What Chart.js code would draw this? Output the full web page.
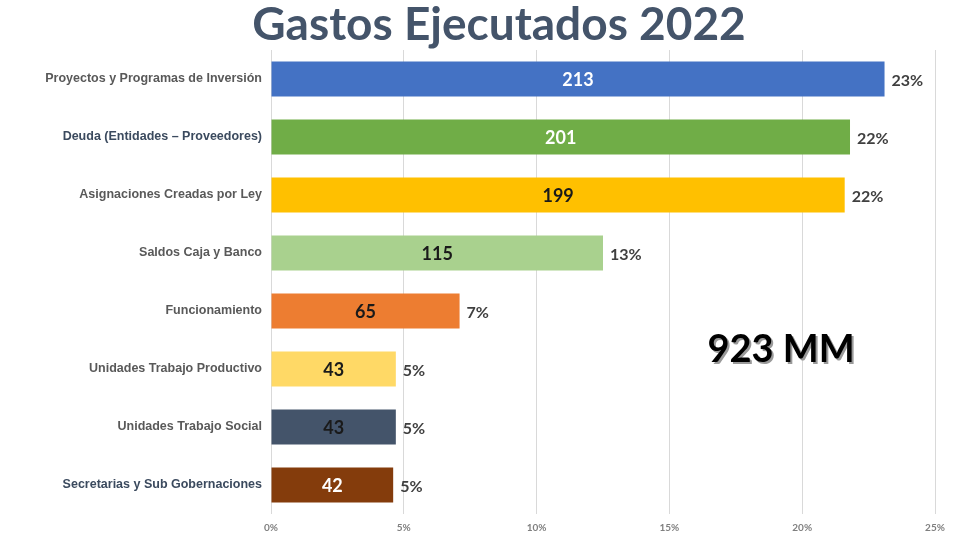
<!DOCTYPE html>
<html lang="es">
<head>
<meta charset="UTF-8" />
<title>Gastos Ejecutados 2022</title>
<style>
  body { margin: 0; background: #fff; }
  #wrap { width: 980px; height: 540px; }
</style>
</head>
<body>
<div id="wrap"><canvas id="chart" width="980" height="540"></canvas></div>

<script src="https://cdn.jsdelivr.net/npm/chart.js"></script>
<script>
  // Data
  const categories = [
    'Proyectos y Programas de Inversión',
    'Deuda (Entidades – Proveedores)',
    'Asignaciones Creadas por Ley',
    'Saldos Caja y Banco',
    'Funcionamiento',
    'Unidades Trabajo Productivo',
    'Unidades Trabajo Social',
    'Secretarias y Sub Gobernaciones'
  ];
  const shares = [23.1, 21.8, 21.6, 12.5, 7.1, 4.7, 4.7, 4.6];   // % of total (bar length)
  const amounts = [213, 201, 199, 115, 65, 43, 43, 42];          // MM, label inside bar
  const shareLabels = ['23%', '22%', '22%', '13%', '7%', '5%', '5%', '5%'];
  const xTicks = [0, 5, 10, 15, 20, 25];
  const titleText = 'Gastos Ejecutados 2022';
  const totalLabel = '923 MM';

  const barColors = ['#4472C4', '#70AD47', '#FFC000', '#A9D18E', '#ED7D31', '#FFD966', '#44546A', '#843C0C'];
  const insideColors = ['#fff', '#fff', '#1a1a1a', '#1a1a1a', '#1a1a1a', '#1a1a1a', '#1a1a1a', '#fff'];
  const tickColors = ['#595959', '#3b4a5e', '#595959', '#595959', '#595959', '#595959', '#595959', '#3b4a5e'];

  // title, labels inside and after each bar, plus the total note
  const barLabels = {
    id: 'barLabels',
    afterDatasetsDraw(chart) {
      const ctx = chart.ctx;
      const meta = chart.getDatasetMeta(0);
      ctx.save();
      ctx.textBaseline = 'middle';
      meta.data.forEach((bar, i) => {
        ctx.font = 'bold 18px Lato, "Open Sans", sans-serif';
        ctx.fillStyle = insideColors[i];
        ctx.textAlign = 'center';
        ctx.fillText(amounts[i], (bar.x + bar.base) / 2, bar.y + 1);
        ctx.font = 'bold 16px Lato, "Open Sans", sans-serif';
        ctx.fillStyle = '#404040';
        ctx.textAlign = 'left';
        ctx.fillText(shareLabels[i], bar.x + 7, bar.y + 2);
      });
      // title
      ctx.font = 'bold 46px Lato, "Open Sans", sans-serif';
      ctx.textAlign = 'center';
      ctx.fillStyle = '#44546A';
      ctx.fillText(titleText, 499, 25);
      // total note
      const a = chart.chartArea;
      ctx.font = 'bold 38px Lato, "Open Sans", sans-serif';
      ctx.fillStyle = '#9a9a9a';
      ctx.fillText(totalLabel, a.left + 512, 352);
      ctx.fillStyle = '#000';
      ctx.fillText(totalLabel, a.left + 510, 350);
      ctx.restore();
    }
  };

  new Chart(document.getElementById('chart'), {
    type: 'bar',
    data: {
      labels: categories,
      datasets: [{
        data: shares,
        backgroundColor: barColors,
        barPercentage: 0.6,
        categoryPercentage: 1.0
      }]
    },
    options: {
      indexAxis: 'y',
      responsive: false,
      animation: false,
      layout: { padding: { left: 0, right: 45, top: 50, bottom: 0 } },
      plugins: {
        legend: { display: false },
        tooltip: { enabled: false },
        title: { display: false }
      },
      scales: {
        x: {
          min: 0,
          max: 25,
          afterBuildTicks(scale) { scale.ticks = xTicks.map(v => ({ value: v })); },
          afterFit(scale) { scale.height = 26; },
          grid: { color: '#d9d9d9', drawTicks: false },
          border: { display: false },
          ticks: {
            padding: 8,
            color: '#7f7f7f',
            font: { family: 'Lato, "Open Sans", sans-serif', size: 10, weight: 'bold' },
            callback: v => v + '%'
          }
        },
        y: {
          afterFit(scale) { scale.width = 271; },
          grid: { display: false, drawTicks: false },
          border: { display: false },
          ticks: {
            padding: 9,
            color: ctx => tickColors[ctx.index],
            font: { family: 'Arial, "Liberation Sans", sans-serif', size: 12.5, weight: 'bold' }
          }
        }
      }
    },
    plugins: [barLabels]
  });
</script>
</body>
</html>
